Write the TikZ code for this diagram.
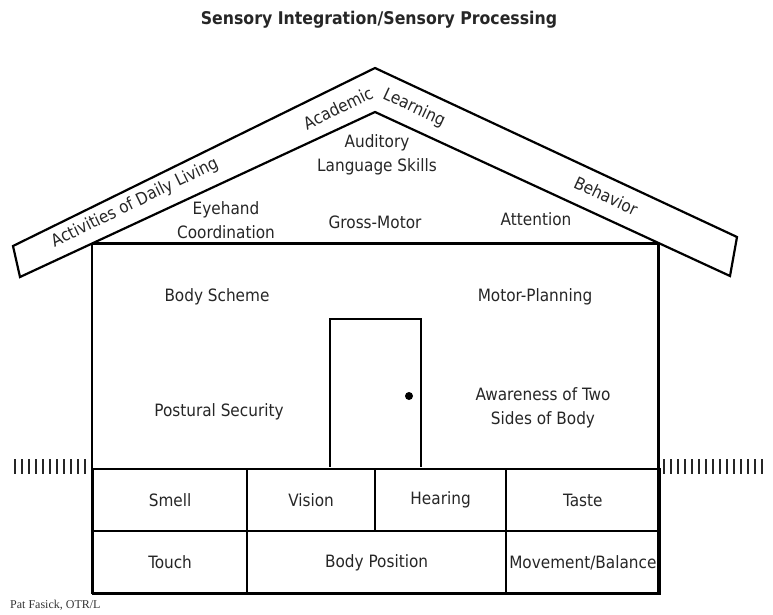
\documentclass[tikz,border=0pt]{standalone}
\usepackage{fontspec}
\setmainfont{DejaVu Sans Condensed}[BoldFont={DejaVu Sans Condensed Bold}]
\newfontfamily\creditfont{Liberation Serif}
\begin{document}
\begin{tikzpicture}[x=1pt,y=-1pt,
  wall/.style={line width=2.2pt,line join=miter},
  lbl/.style={font=\fontsize{17}{24}\selectfont,text=black!85,inner sep=0pt,align=center},
  cell/.style={draw,line width=2.2pt,font=\fontsize{17}{24}\selectfont,text=black!85,inner sep=0pt,anchor=north west},
  grass/.style={line width=2.6pt,black!85}]
\useasboundingbox (0,0) rectangle (773,615);
% title
\node[font=\fontsize{17.5}{20}\selectfont\bfseries,text=black!85] (title) at (379,20) {Sensory Integration/Sensory Processing};
% roof
\coordinate (apexO) at (375,68);
\coordinate (apexI) at (375,112);
\coordinate (LO) at (13,246);
\coordinate (LI) at (20,277);
\coordinate (RO) at (737,237);
\coordinate (RI) at (730,276);
\draw[wall] (apexI) -- (LI) -- (LO) -- (apexO) -- (RO) -- (RI) -- cycle;
% house walls
\coordinate (WL) at (92,243.5);
\coordinate (WR) at (658.5,243.5);
\coordinate (WLb) at (92,593);
\coordinate (WRb) at (658.5,593);
\draw[wall] (WL) -- (WR);
\draw[wall] (WL) -- (WLb) -- (WRb) -- (WR);
% door
\coordinate (DL) at (330,467);
\coordinate (DR) at (421,467);
\draw[wall] (DL) |- (421,319) -- (DR);
\fill (409,396) circle (4pt);
% foundation cells
\node[cell,minimum width=154pt,minimum height=62pt] (smell) at (92,468) {Smell};
\node[cell,minimum width=128pt,minimum height=62pt] (vision) at (246,468) {Vision};
\node[cell,minimum width=131pt,minimum height=62pt] (hearing) at (374,468) {Hearing};
\node[cell,minimum width=153.5pt,minimum height=62pt] (taste) at (505,468) {Taste};
\node[cell,minimum width=154pt,minimum height=63pt] (touch) at (92,530) {Touch};
\node[cell,minimum width=259pt,minimum height=63pt] (bodypos) at (246,530) {Body Position};
\node[cell,minimum width=153.5pt,minimum height=63pt] (move) at (505,530) {Movement/Balance};
% grass
\foreach \i in {0,...,10} {\draw[grass] (15+7*\i,459) -- (15+7*\i,474);}
\foreach \i in {0,...,14} {\draw[grass] (664+7*\i,459) -- (664+7*\i,474);}
% roof labels
\node[lbl,rotate=26] (adl) at (135,203) {Activities of Daily Living};
\node[lbl,rotate=26] (acad) at (338,108) {Academic};
\node[lbl,rotate=-25] (learn) at (414,108) {Learning};
\node[lbl,rotate=-25] (behav) at (606,196) {Behavior};
% interior labels
\node[lbl] (aud) at (377,155) {Auditory\\Language Skills};
\node[lbl] (eye) at (226,220) {Eyehand\\Coordination};
\node[lbl] (gross) at (375,222) {Gross-Motor};
\node[lbl] (attn) at (536,219) {Attention};
\node[lbl] (body) at (217,297) {Body Scheme};
\node[lbl] (motor) at (535,297) {Motor-Planning};
\node[lbl] (post) at (219,412) {Postural Security};
\node[lbl] (aware) at (543,408) {Awareness of Two\\Sides of Body};
% credit
\node[font=\creditfont\fontsize{12}{14}\selectfont,text=black!80,anchor=west,inner sep=0pt] (credit) at (10,605) {Pat Fasick, OTR/L};
\end{tikzpicture}
\end{document}
